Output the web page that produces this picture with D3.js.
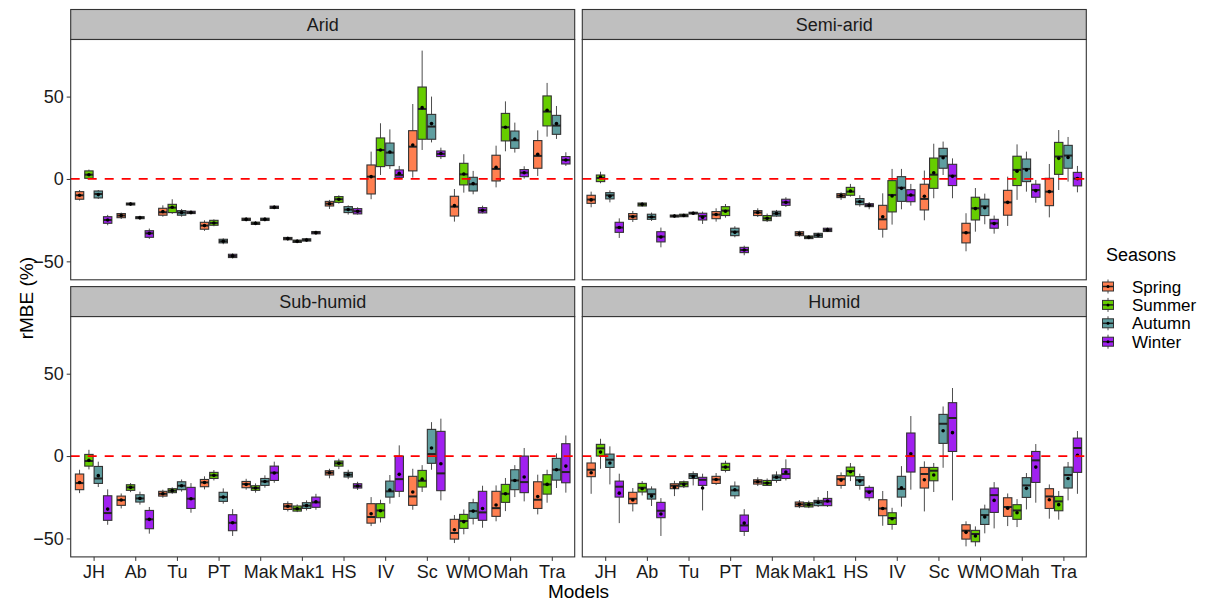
<!DOCTYPE html>
<html lang="en">
<head>
<meta charset="UTF-8">
<title>rMBE by climate zone and season</title>
<script src="https://d3js.org/d3.v7.min.js"></script>
<style>
  body { margin: 0; background: #fff; }
  svg { display: block; font-family: "Liberation Sans", Arial, sans-serif; }
</style>
</head>
<body>
<div id="chart"></div>
<script>
// categories
var models = ["JH", "Ab", "Tu", "PT", "Mak", "Mak1", "HS", "IV", "Sc", "WMO", "Mah", "Tra"];
var seasons = ["Spring", "Summer", "Autumn", "Winter"];
var zones = ["Arid", "Semi-arid", "Sub-humid", "Humid"];
var seasonColors = ["#FF7F50", "#66CD00", "#5F9EA0", "#A020F0"];
var yTicks = [-50, 0, 50];

// each row: [lower whisker, q1, median, q3, upper whisker, mean], one row per model
var aridSpring = [[-13.1,-12.3,-9.9,-7.7,-6.7,-9.9],[-24.3,-23.5,-22.2,-21.0,-20.4,-22.2],[-22.9,-22.0,-20.2,-17.8,-16.0,-19.8],[-31.5,-30.5,-28.3,-26.3,-25.1,-28.3],[-25.7,-25.2,-24.5,-23.8,-23.3,-24.5],[-37.4,-36.9,-36.2,-35.5,-35.0,-36.2],[-18.2,-16.4,-15.0,-13.6,-12.7,-15.0],[-12.3,-9.1,1.4,8.5,16.6,1.4],[0.8,4.9,19.6,29.3,45.5,20.6],[-25.9,-22.5,-16.8,-10.5,-6.1,-16.2],[-5.1,-1.2,6.1,14.4,20.2,7.1],[1.8,6.5,14.0,23.3,29.5,15.0]];
var aridSummer = [[-0.2,0.4,2.6,4.9,5.7,2.6],[-16.4,-15.8,-15.2,-14.6,-14.0,-15.2],[-21.2,-20.4,-17.4,-15.4,-12.3,-17.2],[-28.7,-28.1,-26.7,-25.1,-24.5,-26.7],[-28.1,-27.6,-26.9,-26.2,-25.7,-26.9],[-39.0,-38.5,-37.8,-37.1,-36.6,-37.8],[-15.0,-14.2,-12.3,-10.7,-9.9,-12.3],[2.4,7.5,17.6,24.9,33.8,17.6],[17.6,24.1,42.5,55.8,77.9,43.3],[-8.3,-3.6,2.8,9.5,15.0,3.0],[16.8,23.1,31.4,39.8,47.1,31.4],[25.7,32.2,40.9,50.4,58.3,41.7]];
var aridAutumn = [[-12.1,-11.5,-9.1,-7.3,-6.7,-9.5],[-24.7,-24.1,-23.5,-22.9,-22.3,-23.5],[-22.9,-22.0,-20.4,-19.2,-18.2,-20.4],[-39.6,-38.8,-37.8,-36.6,-36.0,-37.8],[-25.7,-25.2,-24.5,-23.8,-23.3,-24.5],[-38.2,-37.7,-37.0,-36.3,-35.8,-37.0],[-21.6,-20.4,-18.6,-16.8,-16.0,-18.6],[6.1,8.1,16.0,21.8,30.1,16.4],[22.2,24.1,31.8,39.2,50.0,33.6],[-9.3,-7.3,-3.2,1.0,4.9,-2.8],[16.0,18.6,23.5,29.1,34.2,24.3],[24.3,27.1,32.4,38.6,44.3,33.6]];
var aridWinter = [[-28.1,-26.9,-24.9,-22.9,-21.8,-24.9],[-36.4,-35.4,-33.0,-31.4,-30.1,-33.0],[-21.2,-21.0,-20.4,-19.6,-19.0,-20.4],[-48.3,-47.7,-46.7,-45.7,-45.1,-46.7],[-18.4,-17.9,-17.2,-16.5,-16.0,-17.2],[-33.8,-33.3,-32.6,-31.9,-31.4,-32.6],[-21.6,-21.2,-19.6,-18.0,-17.2,-19.6],[-0.2,1.0,2.4,5.5,7.9,3.4],[12.1,13.6,15.2,17.0,19.0,15.4],[-20.9,-20.6,-19.0,-17.4,-16.2,-19.0],[0.2,1.4,3.8,5.7,7.7,3.8],[7.9,9.1,11.5,13.6,16.2,11.5]];

var semiSpring = [[-17.2,-14.8,-12.5,-9.9,-7.7,-12.7],[-26.1,-24.5,-22.7,-21.0,-19.4,-22.9],[-23.5,-23.1,-22.5,-21.9,-21.4,-22.5],[-25.9,-24.1,-21.6,-19.8,-17.8,-21.6],[-23.1,-22.2,-20.4,-19.2,-17.8,-20.4],[-35.0,-34.4,-33.2,-32.0,-31.4,-33.2],[-12.7,-11.3,-10.1,-8.9,-8.1,-10.1],[-35.6,-30.5,-24.5,-16.0,-8.7,-22.9],[-25.1,-18.8,-12.1,-3.2,5.1,-10.5],[-43.9,-38.8,-32.6,-26.9,-20.8,-32.6],[-28.5,-22.0,-14.2,-6.9,1.4,-14.2],[-23.3,-16.2,-7.7,0.4,9.1,-7.7]];
var semiSummer = [[-2.6,-1.6,0.6,2.4,4.4,1.2],[-16.8,-16.4,-15.4,-14.6,-14.2,-15.4],[-23.1,-22.9,-22.2,-21.4,-21.0,-22.2],[-23.5,-22.2,-19.2,-16.8,-15.2,-19.6],[-26.1,-25.3,-23.9,-22.2,-21.0,-23.9],[-36.6,-36.2,-35.4,-34.6,-34.2,-35.4],[-10.7,-9.9,-7.7,-5.1,-3.0,-7.3],[-27.7,-20.0,-9.7,-1.0,6.1,-10.3],[-11.7,-5.7,2.6,12.7,21.4,3.8],[-32.0,-24.9,-17.8,-11.1,-5.5,-18.0],[-12.7,-4.0,5.5,13.8,21.0,4.7],[-6.7,2.8,13.6,22.2,29.7,12.5]];
var semiAutumn = [[-14.2,-12.1,-9.9,-8.3,-6.9,-10.5],[-25.5,-24.5,-23.1,-21.4,-20.4,-23.1],[-21.6,-21.2,-20.8,-20.2,-19.8,-20.8],[-35.4,-34.4,-32.0,-29.9,-28.7,-32.4],[-22.9,-22.5,-21.0,-19.6,-18.8,-21.0],[-35.6,-35.4,-34.2,-33.0,-32.6,-34.2],[-16.8,-15.6,-13.8,-11.9,-9.9,-13.8],[-18.4,-13.6,-5.3,1.4,6.1,-5.7],[2.4,6.5,13.8,18.6,22.7,12.9],[-27.5,-22.2,-16.6,-12.3,-8.9,-17.4],[-7.7,-1.6,6.1,12.1,16.6,5.5],[-1.6,6.5,14.2,20.4,25.5,13.1]];
var semiWinter = [[-35.8,-32.4,-29.5,-26.3,-23.9,-29.5],[-41.5,-38.2,-35.0,-32.0,-29.5,-35.2],[-27.3,-24.9,-22.5,-20.8,-19.8,-23.3],[-46.3,-44.7,-43.1,-41.5,-40.5,-43.1],[-17.0,-16.0,-14.2,-12.3,-11.1,-14.2],[-32.2,-31.9,-30.9,-29.9,-29.5,-30.9],[-18.4,-16.8,-16.0,-15.0,-14.0,-16.0],[-16.2,-13.8,-9.9,-6.5,-3.0,-9.7],[-11.7,-4.0,2.0,8.9,12.5,1.6],[-33.2,-29.9,-26.9,-24.5,-22.2,-27.1],[-14.4,-11.1,-6.7,-3.2,-0.6,-7.1],[-8.1,-4.2,0.2,4.0,7.9,0.2]];

var subSpring = [[-22.5,-20.4,-16.4,-10.9,-8.3,-16.0],[-31.8,-29.9,-26.7,-24.3,-22.7,-26.7],[-25.3,-24.3,-22.9,-21.4,-20.4,-22.9],[-20.2,-18.6,-16.0,-14.2,-12.3,-16.0],[-20.4,-19.2,-17.0,-15.4,-13.8,-17.2],[-33.6,-32.4,-30.5,-28.9,-27.5,-30.5],[-13.5,-11.5,-10.1,-8.9,-7.7,-10.1],[-42.5,-40.7,-37.0,-28.9,-24.9,-35.0],[-32.6,-29.9,-24.5,-12.3,-7.7,-21.8],[-52.8,-50.4,-46.7,-38.4,-35.8,-44.7],[-39.6,-36.6,-31.6,-21.4,-17.8,-29.7],[-35.4,-31.8,-26.5,-15.6,-11.3,-24.5]];
var subSummer = [[-8.1,-6.1,-3.0,1.0,3.8,-2.6],[-21.9,-20.8,-19.0,-17.4,-16.4,-19.0],[-22.9,-22.2,-21.0,-19.8,-19.0,-21.0],[-14.8,-13.6,-11.7,-9.9,-8.5,-11.7],[-22.2,-20.8,-19.4,-18.0,-16.6,-19.4],[-34.0,-33.4,-32.0,-30.3,-29.3,-32.0],[-7.9,-6.1,-4.4,-3.0,-1.6,-4.4],[-40.3,-37.4,-33.0,-28.9,-26.5,-33.2],[-21.8,-18.8,-15.0,-8.7,-5.5,-14.0],[-47.5,-43.9,-39.4,-35.4,-32.4,-39.8],[-33.4,-28.1,-22.9,-17.2,-13.3,-22.9],[-28.3,-23.1,-17.2,-11.3,-8.3,-17.2]];
var subAutumn = [[-18.8,-16.6,-13.6,-6.3,-3.4,-11.9],[-29.5,-27.9,-25.7,-23.5,-21.6,-25.7],[-21.6,-20.4,-18.0,-15.6,-14.2,-18.0],[-28.9,-27.5,-24.9,-22.0,-19.6,-24.9],[-19.2,-17.8,-15.4,-13.6,-11.7,-15.4],[-33.0,-31.8,-30.1,-28.3,-26.9,-30.1],[-14.0,-12.7,-11.3,-9.9,-8.3,-11.3],[-28.9,-24.9,-21.4,-15.2,-11.5,-20.6],[-8.3,-4.4,1.2,16.2,20.6,4.9],[-41.5,-37.8,-33.4,-28.3,-25.9,-33.4],[-24.9,-20.4,-14.8,-8.3,-5.5,-14.8],[-19.4,-14.6,-8.3,-1.4,1.6,-8.3]];
var subWinter = [[-41.7,-39.0,-34.6,-24.1,-20.2,-32.2],[-47.1,-44.1,-38.4,-33.0,-30.9,-38.4],[-34.4,-31.8,-25.9,-19.0,-16.4,-25.9],[-48.5,-45.3,-40.5,-35.6,-32.2,-40.5],[-16.2,-14.8,-10.1,-6.1,-3.4,-10.3],[-32.6,-31.1,-28.1,-24.9,-22.9,-27.7],[-20.6,-19.4,-18.2,-16.8,-15.6,-18.2],[-24.9,-21.4,-14.0,0.0,6.5,-11.1],[-26.9,-21.0,-10.5,15.0,22.7,-4.7],[-43.5,-39.0,-34.2,-21.4,-18.0,-31.8],[-27.5,-22.2,-15.8,0.0,4.9,-12.7],[-22.2,-16.2,-9.7,7.5,12.5,-6.1]];

var humidSpring = [[-22.9,-12.5,-8.3,-4.2,-0.6,-10.1],[-33.6,-28.9,-25.9,-22.0,-19.4,-26.7],[-24.3,-19.8,-18.0,-16.8,-15.0,-19.0],[-17.6,-16.6,-14.2,-12.3,-10.3,-14.2],[-18.2,-17.0,-15.6,-14.4,-12.9,-15.6],[-31.6,-30.7,-29.3,-27.9,-26.7,-29.3],[-19.8,-17.8,-14.0,-11.9,-9.9,-14.6],[-42.3,-36.2,-31.8,-26.5,-21.2,-31.8],[-33.6,-19.4,-10.9,-6.9,-3.2,-14.4],[-54.8,-50.4,-45.3,-41.7,-39.6,-46.3],[-42.5,-36.6,-30.9,-25.3,-22.7,-31.6],[-38.0,-31.8,-24.5,-19.8,-17.2,-26.5]];
var humidSummer = [[-7.7,0.0,4.7,7.1,10.5,2.4],[-23.9,-21.8,-19.2,-16.6,-15.2,-19.8],[-19.4,-18.6,-16.8,-15.6,-14.8,-17.2],[-9.9,-8.7,-6.7,-4.4,-2.8,-6.7],[-18.0,-17.8,-16.4,-14.8,-13.6,-16.4],[-31.6,-30.9,-29.5,-28.3,-27.1,-29.5],[-15.2,-12.1,-9.1,-6.7,-4.2,-9.5],[-44.7,-41.5,-37.6,-34.4,-31.4,-38.0],[-21.8,-15.0,-8.9,-6.9,-4.2,-11.5],[-54.8,-52.0,-47.3,-45.1,-42.7,-48.5],[-43.1,-38.4,-33.0,-29.5,-26.1,-34.4],[-38.6,-33.2,-27.5,-24.5,-21.2,-29.5]];
var humidAutumn = [[-17.2,-6.9,-2.2,1.2,5.9,-4.2],[-30.3,-26.1,-23.1,-20.0,-18.4,-24.3],[-17.8,-13.6,-11.9,-10.7,-9.3,-12.5],[-25.9,-24.1,-20.8,-18.2,-15.4,-20.4],[-16.2,-14.8,-12.9,-11.5,-9.3,-12.9],[-30.9,-30.1,-28.1,-26.9,-24.9,-28.1],[-20.4,-17.8,-14.6,-12.5,-10.7,-15.2],[-30.7,-24.9,-20.0,-12.3,-6.1,-19.2],[-7.1,7.7,19.6,25.3,30.1,15.4],[-46.9,-41.5,-35.8,-32.2,-29.5,-37.0],[-32.4,-25.1,-17.8,-13.1,-10.3,-19.6],[-26.9,-19.4,-11.5,-6.7,-3.6,-13.6]];
var humidWinter = [[-40.7,-24.9,-18.6,-15.2,-10.7,-22.5],[-48.5,-37.4,-33.2,-28.1,-25.5,-35.2],[-33.0,-17.8,-14.4,-12.9,-10.7,-19.4],[-48.5,-45.7,-42.1,-35.8,-32.2,-40.7],[-14.8,-13.6,-10.9,-7.7,-2.0,-9.7],[-30.9,-30.1,-27.5,-25.7,-21.2,-27.3],[-27.1,-25.3,-21.4,-19.0,-17.8,-22.0],[-20.4,-9.7,0.0,14.0,24.3,1.4],[-26.9,2.8,23.1,32.4,41.3,14.2],[-43.9,-34.2,-23.7,-19.4,-15.8,-26.9],[-28.3,-16.0,-2.6,2.8,7.3,-6.7],[-22.9,-9.9,4.9,10.9,15.2,0.4]];

var zoneData = [
    [aridSpring, aridSummer, aridAutumn, aridWinter],
    [semiSpring, semiSummer, semiAutumn, semiWinter],
    [subSpring, subSummer, subAutumn, subWinter],
    [humidSpring, humidSummer, humidAutumn, humidWinter]
];

// layout
var width = 1218, height = 601;
var panelW = 504, panelH = 240.3, stripH = 30;
var panelX = [70.7, 582.3];
var panelY = [39.5, 316.6];

var svg = d3.select("#chart").append("svg")
    .attr("width", width)
    .attr("height", height);

var x = d3.scalePoint().domain(models).range([0, panelW]).padding(0.55);
var dodgeW = x.step() * 0.9;
var xs = d3.scaleBand().domain(seasons).range([-dodgeW / 2, dodgeW / 2]);
var y = d3.scaleLinear().domain([-61.2, 84.65]).range([panelH, 0]);
var color = d3.scaleOrdinal().domain(seasons).range(seasonColors);

zones.forEach(function (zone, zi) {
    var col = zi % 2, row = Math.floor(zi / 2);
    var px = panelX[col], py = panelY[row];

    // strip
    svg.append("rect")
        .attr("x", px).attr("y", py - stripH)
        .attr("width", panelW).attr("height", stripH)
        .attr("fill", "#bfbfbf")
        .attr("stroke", "#333").attr("stroke-width", 1.1);
    svg.append("text")
        .attr("x", px + panelW / 2).attr("y", py - stripH / 2)
        .attr("dy", "0.36em")
        .attr("text-anchor", "middle")
        .style("font-size", "18px")
        .attr("fill", "#1a1a1a")
        .text(zone);

    var g = svg.append("g").attr("transform", "translate(" + px + "," + py + ")");
    g.append("rect").attr("width", panelW).attr("height", panelH).attr("fill", "#fff");

    // boxes
    var rows = [];
    seasons.forEach(function (s, si) {
        zoneData[zi][si].forEach(function (v, mi) {
            rows.push({ model: models[mi], season: s, lo: v[0], q1: v[1], med: v[2], q3: v[3], hi: v[4], mean: v[5] });
        });
    });

    var box = g.selectAll(".box").data(rows).enter().append("g")
        .attr("class", "box")
        .attr("transform", function (d) {
            return "translate(" + (x(d.model) + xs(d.season) + xs.bandwidth() / 2) + ",0)";
        });
    var bw = xs.bandwidth();

    box.append("line")
        .attr("y1", function (d) { return y(d.hi); })
        .attr("y2", function (d) { return y(d.lo); })
        .attr("stroke", "#4d4d4d").attr("stroke-width", 1);
    box.append("rect")
        .attr("x", -bw / 2 + 0.5).attr("width", bw - 1)
        .attr("y", function (d) { return y(d.q3); })
        .attr("height", function (d) { return Math.max(1, y(d.q1) - y(d.q3)); })
        .attr("fill", function (d) { return color(d.season); })
        .attr("stroke", "#333").attr("stroke-width", 1.1);
    box.append("line")
        .attr("x1", -bw / 2 + 0.5).attr("x2", bw / 2 - 0.5)
        .attr("y1", function (d) { return y(d.med); })
        .attr("y2", function (d) { return y(d.med); })
        .attr("stroke", "#222").attr("stroke-width", 2);
    box.append("circle")
        .attr("cy", function (d) { return y(d.mean); })
        .attr("r", 1.8)
        .attr("fill", "#000");

    // zero reference line
    g.append("line")
        .attr("x1", 0).attr("x2", panelW)
        .attr("y1", y(0)).attr("y2", y(0))
        .attr("stroke", "#ff0000").attr("stroke-width", 1.8)
        .attr("stroke-dasharray", "9,8");

    // panel border
    g.append("rect").attr("width", panelW).attr("height", panelH)
        .attr("fill", "none").attr("stroke", "#333").attr("stroke-width", 1.1);

    // y axis on left column
    if (col === 0) {
        var ya = g.append("g").call(d3.axisLeft(y).tickValues(yTicks).tickSize(4).tickPadding(3).tickFormat(d3.format("d")));
        ya.select(".domain").remove();
        ya.selectAll(".tick line").attr("stroke", "#333");
        ya.selectAll(".tick text").style("font-size", "18px").style("font-family", "Liberation Sans, Arial, sans-serif").attr("fill", "#1a1a1a");
    }
    // x axis on bottom row
    if (row === 1) {
        var xa = g.append("g").attr("transform", "translate(0," + panelH + ")")
            .call(d3.axisBottom(x).tickSize(4).tickPadding(4));
        xa.select(".domain").remove();
        xa.selectAll(".tick line").attr("stroke", "#333");
        xa.selectAll(".tick text").style("font-size", "18px").style("font-family", "Liberation Sans, Arial, sans-serif").attr("fill", "#1a1a1a");
    }
});

// axis titles
svg.append("text")
    .attr("x", (panelX[0] + panelX[1] + panelW) / 2).attr("y", 598)
    .attr("text-anchor", "middle")
    .style("font-size", "19px")
    .text("Models");
svg.append("text")
    .attr("transform", "translate(33," + ((panelY[0] + panelY[1] + panelH) / 2) + ") rotate(-90)")
    .attr("text-anchor", "middle")
    .style("font-size", "19px")
    .text("rMBE (%)");

// legend
var legend = svg.append("g").attr("transform", "translate(1102,0)");
legend.append("text")
    .attr("x", 4).attr("y", 261)
    .style("font-size", "18px")
    .text("Seasons");
var item = legend.selectAll(".item").data(seasons).enter().append("g")
    .attr("class", "item")
    .attr("transform", function (d, i) { return "translate(0," + (286.5 + i * 18.4) + ")"; });
item.append("line")
    .attr("x1", 6).attr("x2", 6).attr("y1", -7).attr("y2", 7)
    .attr("stroke", "#4d4d4d");
item.append("rect")
    .attr("x", 0.5).attr("y", -4.5).attr("width", 11).attr("height", 9)
    .attr("fill", function (d) { return color(d); })
    .attr("stroke", "#333").attr("stroke-width", 1);
item.append("line")
    .attr("x1", 0.5).attr("x2", 11.5).attr("y1", 0).attr("y2", 0)
    .attr("stroke", "#222").attr("stroke-width", 1.5);
item.append("circle").attr("cx", 6).attr("r", 1.5).attr("fill", "#000");
item.append("text")
    .attr("x", 30).attr("y", 0).attr("dy", "0.36em")
    .style("font-size", "17px")
    .text(function (d) { return d; });
</script>
</body>
</html>
